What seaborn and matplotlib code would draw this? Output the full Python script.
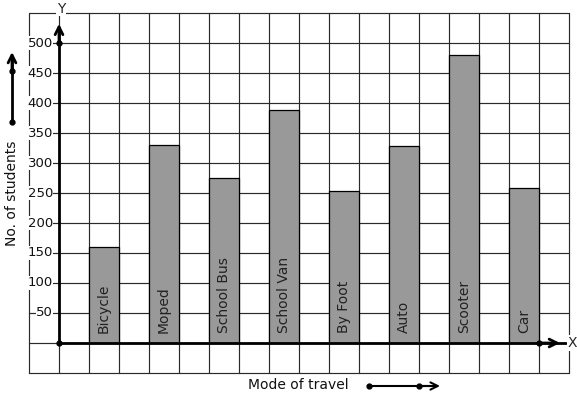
import matplotlib
matplotlib.use("Agg")
import matplotlib.pyplot as plt
import seaborn as sns
import pandas as pd

modes = ["Bicycle", "Moped", "School Bus", "School Van", "By Foot", "Auto", "Scooter", "Car"]
students = [160, 330, 275, 388, 253, 328, 480, 258]
y_ticks = [50, 100, 150, 200, 250, 300, 350, 400, 450, 500]

sns.set_style("white")
plt.rcParams["font.family"] = ["DejaVu Sans"]

W, H = 577, 399
fig = plt.figure(figsize=(W / 100, H / 100), dpi=100)
ax = fig.add_axes([0, 0, 1, 1])

df = pd.DataFrame({"mode": modes, "students": students})
sns.barplot(data=df, x="mode", y="students", order=modes, color="#999999",
            saturation=1, width=0.5, edgecolor="black", linewidth=0.9,
            ax=ax, zorder=3)

# category index i <-> grid cell u : u = 2*i + 1.5
def cell(u):
    return (u - 1.5) / 2

ax.set_xlim(-104 / 60, (W - 104) / 60)
ax.set_ylim(-(H - 343) / 0.6, 343 / 0.6)
ax.axis("off")

# grid
for u in range(-1, 18):
    ax.plot([cell(u), cell(u)], [-50, 550], color="#2a2a2a", lw=0.85, zorder=1)
for v in range(-50, 551, 50):
    ax.plot([cell(-1), cell(17)], [v, v], color="#2a2a2a", lw=0.85, zorder=1)

# axes with arrows
ax.plot([cell(0), cell(0)], [0, 525], color="black", lw=2, zorder=5)
ax.annotate("", xy=(cell(0), 532), xytext=(cell(0), 500),
            arrowprops=dict(arrowstyle="->", lw=2, color="black",
                            mutation_scale=14, shrinkA=0, shrinkB=0), zorder=5)
ax.plot([cell(0), cell(16.9)], [0, 0], color="black", lw=2, zorder=5)
ax.annotate("", xy=(cell(16.7), 0), xytext=(cell(16), 0),
            arrowprops=dict(arrowstyle="->", lw=2, color="black",
                            mutation_scale=14, shrinkA=0, shrinkB=0), zorder=5)
ax.plot([cell(0), cell(0), cell(16)], [0, 500, 0], "o", color="black", ms=3.5, zorder=6)

ax.text(cell(0) + 0.03, 557, "Y", ha="center", va="center", fontsize=10,
        bbox=dict(facecolor="white", edgecolor="none", pad=0.5), zorder=6)
ax.text(cell(16.95), 0, "X", ha="left", va="center", fontsize=10,
        bbox=dict(facecolor="white", edgecolor="none", pad=0.5), zorder=6)

# tick labels
for v in y_ticks:
    ax.text(cell(-0.2), v, str(v), ha="right", va="center", fontsize=9.5,
            color="#111111",
            bbox=dict(facecolor="white", edgecolor="none", pad=0.3), zorder=6)

# bar labels
for i, m in enumerate(modes):
    ax.text(i, 17, m, rotation=90, ha="center", va="bottom", fontsize=10,
            color="#222222", zorder=6)

# axis titles (in figure pixel coords)
def fx(px):
    return px / W
def fy(py):
    return 1 - py / H

fig.text(fx(12), fy(193), "No. of students", rotation=90, ha="center", va="center",
         fontsize=10, color="#111111")
fig.text(fx(298), fy(385), "Mode of travel", ha="center", va="center",
         fontsize=10, color="#111111")

# decorative arrows
fig.add_artist(matplotlib.lines.Line2D([fx(12), fx(12)], [fy(122), fy(60)],
                                       color="black", lw=2))
fig.add_artist(matplotlib.patches.FancyArrowPatch((fx(12), fy(70)), (fx(12), fy(52)),
               transform=fig.transFigure, arrowstyle="->", lw=2, color="black",
               mutation_scale=14, shrinkA=0, shrinkB=0))
fig.add_artist(matplotlib.lines.Line2D([fx(12), fx(12)], [fy(122), fy(71)],
                                       marker="o", ms=3.5, lw=0, color="black"))

fig.add_artist(matplotlib.lines.Line2D([fx(369), fx(430)], [fy(386), fy(386)],
                                       color="black", lw=1.5))
fig.add_artist(matplotlib.patches.FancyArrowPatch((fx(420), fy(386)), (fx(440), fy(386)),
               transform=fig.transFigure, arrowstyle="->", lw=1.5, color="black",
               mutation_scale=13, shrinkA=0, shrinkB=0))
fig.add_artist(matplotlib.lines.Line2D([fx(369), fx(419)], [fy(386), fy(386)],
                                       marker="o", ms=3.5, lw=0, color="black"))

fig.savefig("out.png", dpi=100, facecolor="white")
